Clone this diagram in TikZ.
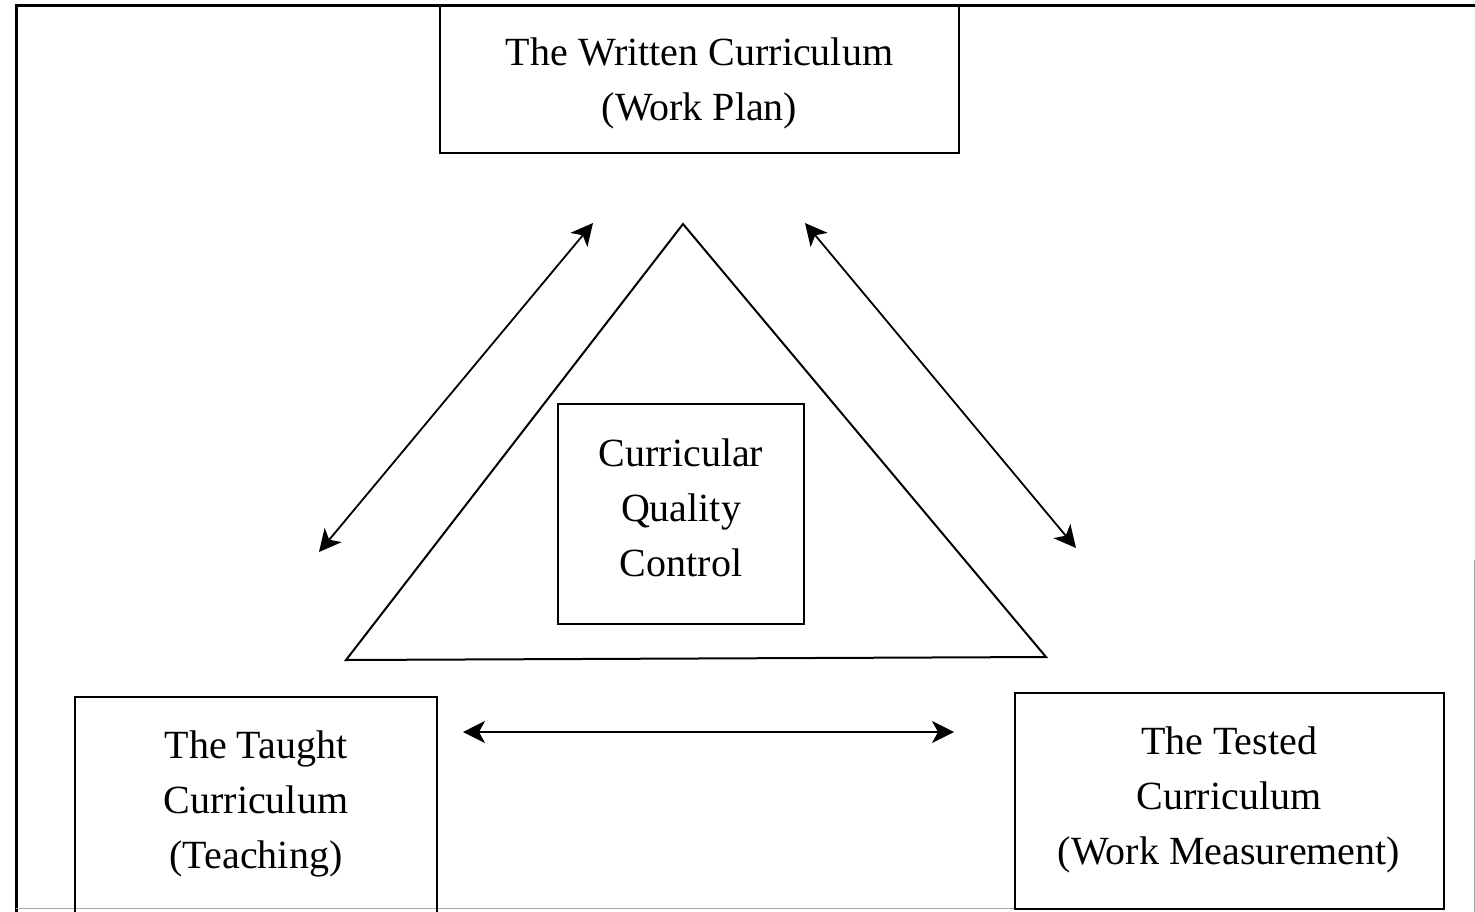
\documentclass[tikz,border=0pt]{standalone}
\usepackage{fontspec}
\setmainfont{Liberation Serif}
\usetikzlibrary{arrows.meta}
\begin{document}
\begin{tikzpicture}[x=1pt,y=-1pt,
  box/.style={draw, line width=2pt, inner sep=0pt},
  txt/.style={align=center, inner sep=0pt, font=\fontsize{40}{55}\selectfont},
  link/.style={line width=1.8pt, {Stealth[length=22pt,width=22pt,inset=6pt]}-{Stealth[length=22pt,width=22pt,inset=6pt]}},
  edgeline/.style={line width=2pt},
  faint/.style={draw=black!35, line width=1pt}]
\useasboundingbox (0,0) rectangle (1475,911);
% outer frame
\draw[line width=3pt] (16,915) |- (1476,5);
\draw[faint] (1474,560) -- (1474,915);
\draw[faint] (16,908) -- (1015,908);
% top box
\node[box, minimum width=519pt, minimum height=147pt] (written) at (699.5,79.5) {};
\node[txt] (writtentxt) at ([yshift=-4pt]written.center) {The Written Curriculum\\(Work Plan)};
% triangle
\coordinate (apex) at (683,224);
\coordinate (bl) at (346,660);
\coordinate (br) at (1046,657);
\draw[edgeline, line join=miter] (apex) -- (br) -- (bl) -- cycle;
% center box
\node[box, minimum width=246pt, minimum height=220pt] (qc) at (681,514) {};
\node[txt] (qctxt) at ([yshift=6pt]qc.center) {Curricular\\Quality\\Control};
% bottom left
\node[txt] (taught) at (256,804) {The Taught\\Curriculum\\(Teaching)};
\draw[edgeline] (75,915) |- (437,697) -- (437,915);
% bottom right
\node[txt] (tested) at (1229,800) {The Tested\\Curriculum\\(Work Measurement)};
\draw[edgeline] (1015,909) rectangle (1444,693);
% arrows
\coordinate (l1) at (319,552);
\coordinate (l2) at (593,223);
\coordinate (r1) at (805,223);
\coordinate (r2) at (1076,548);
\coordinate (h1) at (463,732);
\coordinate (h2) at (954,732);
\draw[link] (l1) -- (l2);
\draw[link] (r1) -- (r2);
\draw[link] (h1) -- (h2);
\end{tikzpicture}
\end{document}
